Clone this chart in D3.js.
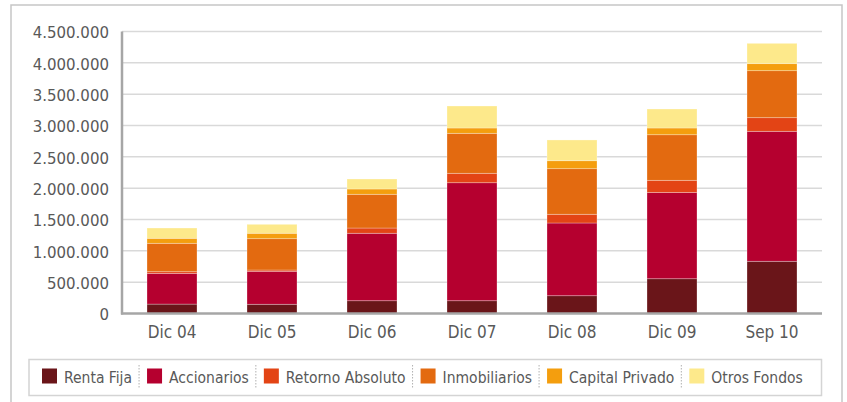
<!DOCTYPE html>
<html>
<head>
<meta charset="utf-8">
<script src="https://cdn.jsdelivr.net/npm/d3@7"></script>
<style>
body{margin:0;background:#fff}
svg{display:block}
</style>
</head>
<body>
<div id="chart"></div>
<script>
// categorias y series
var periodos = ["Dic 04","Dic 05","Dic 06","Dic 07","Dic 08","Dic 09","Sep 10"]
var series = ["Renta Fija","Accionarios","Retorno Absoluto","Inmobiliarios","Capital Privado","Otros Fondos"]
var rentaFija       = [150000,147000,204000,204000,284000,555000,833000]
var accionarios     = [490000,526000,1076000,1883000,1160000,1376000,2074000]
var retornoAbsoluto = [27000,21000,84000,150000,139000,194000,218000]
var inmobiliarios   = [453000,500000,538000,638000,728000,728000,750000]
var capitalPrivado  = [80000,86000,85000,85000,127000,107000,112000]
var otrosFondos     = [164000,143000,159000,351000,331000,303000,324000]
var yTicks = [0,500000,1000000,1500000,2000000,2500000,3000000,3500000,4000000,4500000]
var colores = ["#6a1519","#b5002f","#e34415","#e36a10","#f49e0e","#fde98b"]

var width = 847, height = 402
var svg = d3.select("#chart").append("svg").attr("width",width).attr("height",height)

// marco exterior
svg.append("rect").attr("x",11).attr("y",5).attr("width",831).attr("height",420)
    .attr("fill","#fff").attr("stroke","#c6c6c6").attr("stroke-width",1.5)

var tabla = periodos.map(function(p,i){
    return {periodo:p,"Renta Fija":rentaFija[i],"Accionarios":accionarios[i],
        "Retorno Absoluto":retornoAbsoluto[i],"Inmobiliarios":inmobiliarios[i],
        "Capital Privado":capitalPrivado[i],"Otros Fondos":otrosFondos[i]}
})
var stack = d3.stack().keys(series)(tabla)

var x = d3.scaleBand().domain(periodos).range([122,822]).paddingInner(0.5).paddingOuter(0.25)
var y = d3.scaleLinear().domain([0,4500000]).range([313.5,31.5])
var color = d3.scaleOrdinal().domain(series).range(colores)
var fmt = function(d){ return d3.format(",")(d).replace(/,/g,".") }

// grilla
svg.selectAll(".grid")
    .data(yTicks.slice(1))
    .enter()
    .append("line")
    .attr("x1",122).attr("x2",822)
    .attr("y1",function(d){return y(d)})
    .attr("y2",function(d){return y(d)})
    .attr("stroke","#d9d9d9").attr("stroke-width",1.5)

var yAxis = d3.axisLeft(y).tickValues(yTicks).tickFormat(fmt).tickSize(0).tickPadding(13)
var gy = svg.append("g").attr("transform","translate(122,0)").call(yAxis)
gy.select(".domain").remove()
gy.selectAll("text").attr("font-family","DejaVu Sans").attr("font-size",15)
    .attr("fill","#595959").attr("dy","0.42em")

// barras
svg.selectAll(".serie")
    .data(stack)
    .enter()
    .append("g")
    .attr("fill",function(d){return color(d.key)})
    .selectAll("rect")
    .data(function(d){return d})
    .enter()
    .append("rect")
    .attr("x",function(d){return x(d.data.periodo)})
    .attr("width",x.bandwidth())
    .attr("y",function(d){return y(d[1])})
    .attr("height",function(d){return y(d[0])-y(d[1])})
    .attr("stroke","#fff").attr("stroke-opacity",0.35).attr("stroke-width",0.8)

// ejes
svg.append("line").attr("x1",122).attr("x2",122).attr("y1",y(4500000)).attr("y2",y(0)+1)
    .attr("stroke","#a6a6a6").attr("stroke-width",2.5)
var xAxis = d3.axisBottom(x).tickSize(0).tickPadding(0)
var gx = svg.append("g").attr("transform","translate(0,"+y(0)+")").call(xAxis)
gx.select(".domain").attr("stroke","#a6a6a6").attr("stroke-width",2.5).attr("d","M121,0H822")
gx.selectAll("text").attr("font-family","DejaVu Sans Condensed").attr("font-size",17)
    .attr("fill","#595959").attr("dy",null).attr("y",24.5)

// leyenda
svg.append("rect").attr("x",29).attr("y",359.5).attr("width",792.5).attr("height",36)
    .attr("fill","#fff").attr("stroke","#d4d4d4").attr("stroke-width",1.5)
var lx = 42
series.forEach(function(s,i){
    if(i>0){
        svg.append("line").attr("x1",lx).attr("x2",lx).attr("y1",365).attr("y2",388)
            .attr("stroke","#b0b0b0").attr("stroke-dasharray","1.5,1.5")
        lx += 8
    }
    svg.append("rect").attr("x",lx).attr("y",368.5).attr("width",15).attr("height",15)
        .attr("fill",color(s))
    var t = svg.append("text").text(s).attr("x",lx+22).attr("y",383)
        .attr("font-family","DejaVu Sans Condensed").attr("font-size",15.5).attr("fill","#595959")
    lx += 22 + t.node().getComputedTextLength() + 7
})
</script>
</body>
</html>
